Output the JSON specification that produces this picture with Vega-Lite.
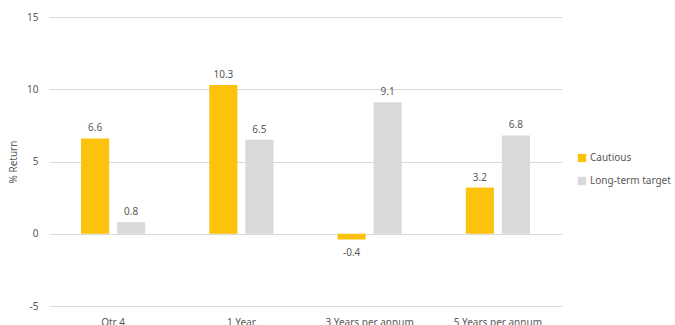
{
  "$schema": "https://vega.github.io/schema/vega-lite/v6.json",
  "autosize": "none",
  "width": 513,
  "height": 289,
  "padding": {"left": 49, "top": 17, "right": 113, "bottom": 19},
  "config": {
    "view": {"stroke": null},
    "font": "Noto Sans",
    "axis": {"labelColor": "#595959", "titleColor": "#595959", "labelFont": "Noto Sans", "titleFont": "Noto Sans"}
  },
  "data": {
    "values": [
      {"period": "Qtr 4", "series": "Cautious", "value": 6.6},
      {"period": "Qtr 4", "series": "Long-term target", "value": 0.8},
      {"period": "1 Year", "series": "Cautious", "value": 10.3},
      {"period": "1 Year", "series": "Long-term target", "value": 6.5},
      {"period": "3 Years per annum", "series": "Cautious", "value": -0.4},
      {"period": "3 Years per annum", "series": "Long-term target", "value": 9.1},
      {"period": "5 Years per annum", "series": "Cautious", "value": 3.2},
      {"period": "5 Years per annum", "series": "Long-term target", "value": 6.8}
    ]
  },
  "encoding": {
    "x": {
      "field": "period", "type": "nominal", "sort": null,
      "scale": {"paddingInner": 0.5, "paddingOuter": 0.25},
      "axis": {"title": null, "labelAngle": 0, "domain": false, "ticks": false, "labelPadding": 11, "labelFontSize": 10, "orient": "bottom"}
    },
    "xOffset": {"field": "series", "type": "nominal", "scale": {"paddingInner": 0.22, "paddingOuter": 0}},
    "y": {
      "field": "value", "type": "quantitative",
      "scale": {"domain": [-5, 15], "nice": false, "zero": false},
      "axis": {"title": "% Return", "values": [-5, 0, 5, 10, 15], "labelExpr": "replace(datum.label, '−', '-')", "domain": false, "ticks": false, "gridColor": "#D9D9D9", "gridWidth": 1, "labelPadding": 11, "labelFontSize": 10, "titleFontSize": 10, "titleFontWeight": "normal", "titlePadding": 8}
    }
  },
  "layer": [
    {
      "mark": {"type": "bar"},
      "encoding": {
        "color": {
          "field": "series", "type": "nominal",
          "scale": {"domain": ["Cautious", "Long-term target"], "range": ["#FDC20C", "#D9D9D9"]},
          "legend": {
            "title": null, "orient": "none", "legendX": 528, "legendY": 136,
            "symbolType": "square", "symbolSize": 70, "labelFontSize": 10, "labelColor": "#595959",
            "rowPadding": 13, "labelOffset": 3, "symbolStrokeWidth": 0
          }
        }
      }
    },
    {
      "transform": [{"filter": "datum.value >= 0"}],
      "mark": {"type": "text", "baseline": "bottom", "dy": -5, "fontSize": 10, "color": "#595959"},
      "encoding": {"text": {"field": "value", "type": "nominal"}}
    },
    {
      "transform": [{"filter": "datum.value < 0"}],
      "mark": {"type": "text", "baseline": "top", "dy": 8, "fontSize": 10, "color": "#595959"},
      "encoding": {"text": {"field": "value", "type": "nominal"}}
    }
  ]
}
